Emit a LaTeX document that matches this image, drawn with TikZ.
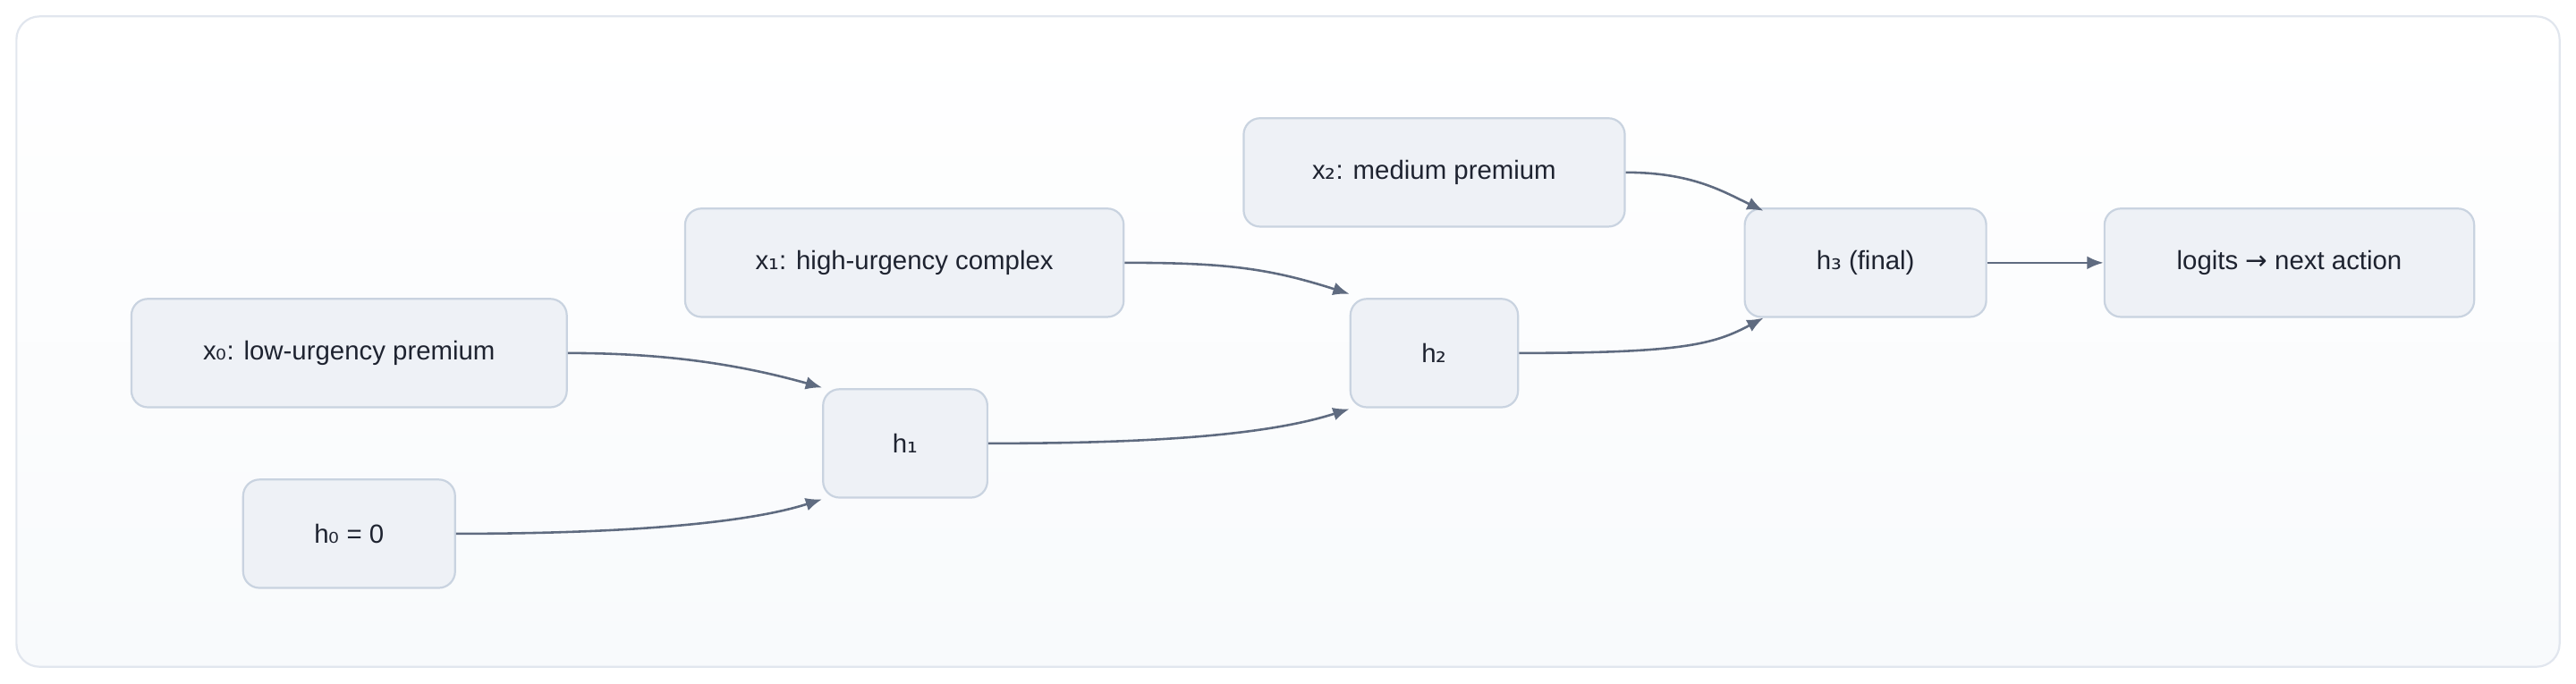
\documentclass[tikz,border=0pt]{standalone}
\usepackage{fontspec}
\setmainfont{Liberation Sans}
\newfontfamily\symfont{DejaVu Sans}
\usetikzlibrary{arrows.meta,positioning}
\newcommand{\sub}[1]{{\symfont #1}}
\definecolor{boxfill}{HTML}{EEF1F6}
\definecolor{boxline}{HTML}{C9D3E0}
\definecolor{edgecol}{HTML}{5F6B80}
\definecolor{textcol}{HTML}{1E2330}
\definecolor{framefill}{HTML}{F8FAFC}
\definecolor{frameline}{HTML}{E1E6EE}
\tikzset{stepbox/.style={
    % The shape:
    rectangle, rounded corners=5pt,
    % The size:
    minimum height=33pt,
    % The border:
    draw=boxline, line width=0.6pt,
    % The filling:
    fill=boxfill,
    % Font
    font=\fontsize{8}{10}\selectfont, text=textcol
    },
    flow/.style={
    draw=edgecol, line width=0.7pt,
    -{Latex[length=5pt,width=4pt]},
    },
}
\begin{document}
\begin{tikzpicture}[x=0.5pt,y=0.5pt]
    \useasboundingbox (0,0) rectangle (1568,416);
    \path[draw=frameline, line width=0.6pt, rounded corners=7pt,
      top color=white, bottom color=framefill] (10,10) rectangle (1558,406);

    \node (x0)     [stepbox,minimum width=132.5pt] at (212.5,201) {x\sub{₀}: low-urgency premium};
    \node (h0)     [stepbox,minimum width=64.5pt]  at (212.5,91)  {h\sub{₀} = 0};
    \node (x1)     [stepbox,minimum width=133.5pt] at (550.5,256) {x\sub{₁}: high-urgency complex};
    \node (h1)     [stepbox,minimum width=50pt]    at (551,146)   {h\sub{₁}};
    \node (x2)     [stepbox,minimum width=116pt]   at (873,311)   {x\sub{₂}: medium premium};
    \node (h2)     [stepbox,minimum width=51pt]    at (873,201)   {h\sub{₂}};
    \node (h3)     [stepbox,minimum width=73.5pt]  at (1135.5,256) {h\sub{₃} (final)};
    \node (logits) [stepbox,minimum width=112.5pt] at (1393.5,256) {logits \sub{→} next action};

    \draw[flow] (x0.east) .. controls +(60,0) and +(-50,14) .. ([yshift=17]h1.west);
    \draw[flow] (h0.east) .. controls +(90,0) and +(-50,-16) .. ([yshift=-17]h1.west);
    \draw[flow] (x1.east) .. controls +(60,0) and +(-50,16) .. ([yshift=18]h2.west);
    \draw[flow] (h1.east) .. controls +(100,0) and +(-50,-16) .. ([yshift=-17]h2.west);
    \draw[flow] (x2.east) .. controls +(40,0) and +(-25,12) .. ([xshift=6,yshift=-1]h3.north west);
    \draw[flow] (h2.east) .. controls +(100,0) and +(-30,-16) .. ([xshift=6]h3.south west);
    \draw[flow] (h3) -- (logits);
\end{tikzpicture}
\end{document}
